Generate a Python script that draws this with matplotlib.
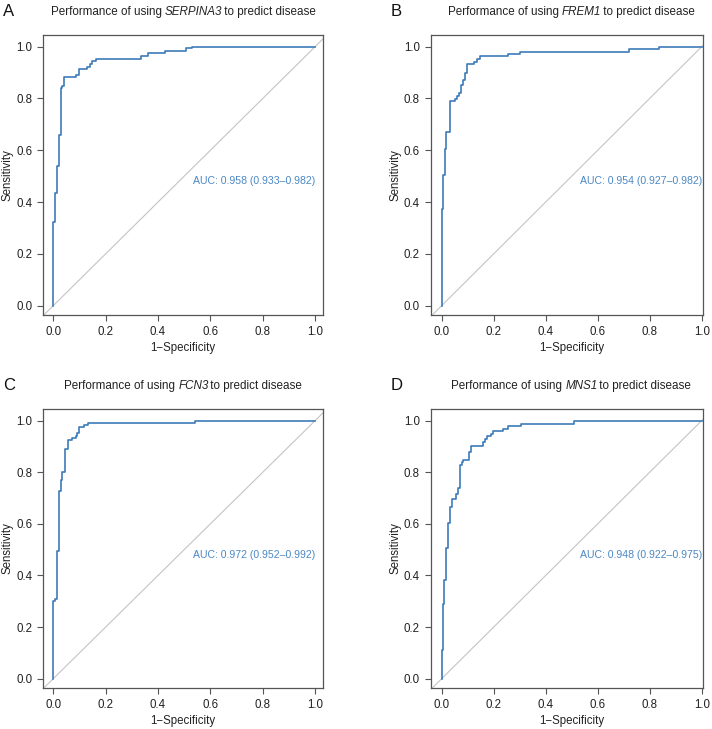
import matplotlib
matplotlib.use("Agg")
import matplotlib.pyplot as plt

plt.rcParams['font.family'] = ['Liberation Sans', 'DejaVu Sans']

# ROC points (1-specificity, sensitivity)
fpr_a = [0, 0, 0.008, 0.015, 0.023, 0.031, 0.034, 0.041, 0.086, 0.10, 0.128, 0.140,
         0.149, 0.163, 0.334, 0.363, 0.427, 0.506, 0.529, 1.0]
tpr_a = [0, 0.324, 0.436, 0.539, 0.659, 0.839, 0.848, 0.882, 0.892, 0.913, 0.923, 0.933,
         0.944, 0.952, 0.964, 0.974, 0.983, 0.994, 1.0, 1.0]

fpr_b = [0, 0, 0.004, 0.012, 0.018, 0.033, 0.051, 0.060, 0.068, 0.076, 0.083, 0.090,
         0.098, 0.125, 0.137, 0.148, 0.255, 0.300, 0.721, 0.837, 1.0]
tpr_b = [0, 0.375, 0.505, 0.605, 0.669, 0.790, 0.796, 0.810, 0.823, 0.851, 0.871, 0.900,
         0.932, 0.941, 0.952, 0.963, 0.971, 0.981, 0.990, 1.0, 1.0]

fpr_c = [0, 0, 0.008, 0.013, 0.022, 0.029, 0.034, 0.044, 0.057, 0.070, 0.086, 0.092,
         0.100, 0.119, 0.131, 0.541, 1.0]
tpr_c = [0, 0.300, 0.310, 0.496, 0.727, 0.768, 0.801, 0.891, 0.923, 0.933, 0.942, 0.953,
         0.974, 0.983, 0.990, 1.0, 1.0]

fpr_d = [0, 0, 0.006, 0.010, 0.018, 0.025, 0.032, 0.041, 0.055, 0.062, 0.069, 0.077,
         0.083, 0.105, 0.112, 0.160, 0.168, 0.176, 0.190, 0.199, 0.234, 0.257, 0.305,
         0.508, 1.0]
tpr_d = [0, 0.110, 0.290, 0.381, 0.505, 0.605, 0.665, 0.695, 0.714, 0.740, 0.827, 0.838,
         0.847, 0.878, 0.900, 0.916, 0.928, 0.940, 0.949, 0.959, 0.969, 0.978, 0.988,
         1.0, 1.0]

genes = ['SERPINA3', 'FREM1', 'FCN3', 'MNS1']
letters = ['A', 'B', 'C', 'D']
auc_labels = ['AUC: 0.958 (0.933\u20130.982)', 'AUC: 0.954 (0.927\u20130.982)',
              'AUC: 0.972 (0.952\u20130.992)', 'AUC: 0.948 (0.922\u20130.975)']
ticks = [0.0, 0.2, 0.4, 0.6, 0.8, 1.0]

curves = [(fpr_a, tpr_a), (fpr_b, tpr_b), (fpr_c, tpr_c), (fpr_d, tpr_d)]

W, H = 712, 729
fig = plt.figure(figsize=(W / 100, H / 100), dpi=100)
renderer = fig.canvas.get_renderer()

# axes boxes in pixels: left, top, right, bottom
boxes = [(43.3, 35, 323, 315), (431, 35, 703, 315),
         (43.3, 409, 323, 688), (431, 409, 703, 688)]
xlims = [(-0.038, 1.03), (-0.041, 1.005), (-0.038, 1.03), (-0.041, 1.005)]
label_x = [0.5, 0.516, 0.5, 0.516]

line_col = '#3d7ab8'
text_col = '#4b88c4'
grey = '#555555'
dark = '#222222'


def title_parts(cx, cy, gene):
    # plain / italic gene / plain, centred as one line
    parts = [('Performance of using ', 'normal'), (gene, 'italic'),
             (' to predict disease', 'normal')]
    texts = [fig.text(0, 0, s, fontsize=8.4, style=st, color=dark, va='center')
             for s, st in parts]
    widths = [t.get_window_extent(renderer).width for t in texts]
    widths[1] -= 1.5  # italic bbox overhang
    x = cx - sum(widths) / 2
    for t, w in zip(texts, widths):
        t.set_position((x / W, 1 - cy / H))
        x += w


for i, (fpr, tpr) in enumerate(curves):
    l, t, r, b = boxes[i]
    ax = fig.add_axes([l / W, 1 - b / H, (r - l) / W, (b - t) / H])
    ax.axline((0, 0), (1, 1), color='#c4c4c4', lw=0.8, zorder=1)
    ax.plot(fpr, tpr, drawstyle='steps-post', color=line_col, lw=1.2, zorder=2)
    ax.set_xlim(*xlims[i])
    ax.set_ylim(-0.036, 1.045)
    ax.set_xticks(ticks)
    ax.set_yticks(ticks)
    ax.set_xticklabels(['%.1f' % v for v in ticks])
    ax.set_yticklabels(['%.1f' % v for v in ticks])
    ax.tick_params(direction='out', length=4, width=0.8, color=grey,
                   labelsize=8.3, labelcolor=dark, pad=4)
    for s in ax.spines.values():
        s.set_color(grey)
        s.set_linewidth(0.9)
    ax.set_xlabel('1\u2212Specificity', fontsize=8.3, color=dark)
    ax.set_ylabel('Sensitivity', fontsize=8.3, color=dark)
    ax.xaxis.set_label_coords(label_x[i], -0.095)
    ax.yaxis.set_label_coords(-0.107, 0.5)
    ax.text(0.768, 0.48, auc_labels[i], color=text_col, fontsize=7.6,
            ha='center', va='center')
    title_parts(l + label_x[i] * (r - l), t - 23, genes[i])
    fig.text((3 if i % 2 == 0 else 391) / W, 1 - (t - 23) / H, letters[i],
             fontsize=12, color='#111111', ha='left', va='center')

fig.savefig('out.png', dpi=100)
